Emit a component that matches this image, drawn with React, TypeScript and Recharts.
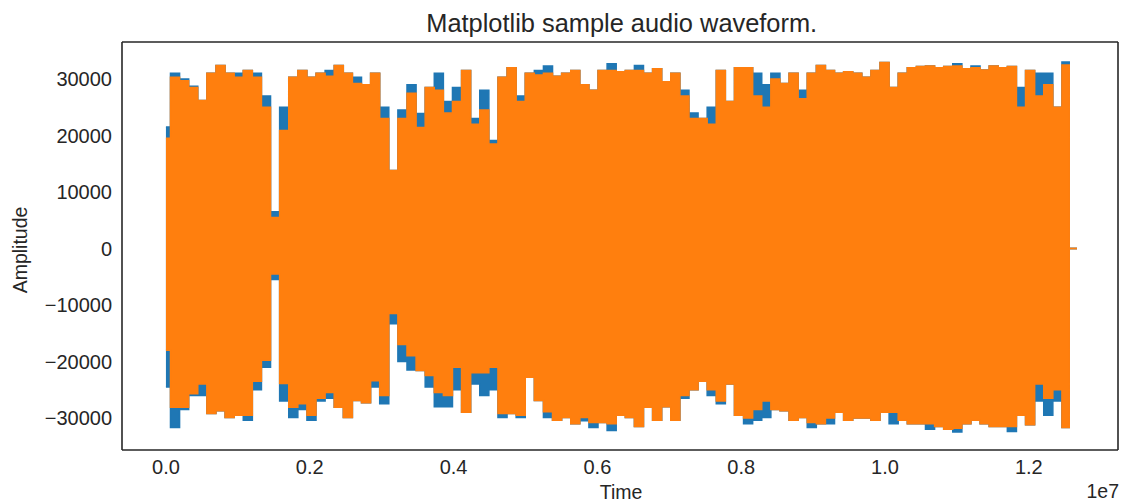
import React from "react";
import { ComposedChart, Area, XAxis, YAxis, ReferenceLine } from "recharts";

// Envelope of the waveform, one bin every 126,500 samples.
const BIN = 126500;

const orangeMax = [
  19500, 30300, 29700, 28500, 26200, 31000, 32400, 31000, 30300, 31500,
  30300, 25000, 5500, 20900, 30300, 31500, 30300, 31000, 30500, 32400,
  31000, 29200, 29000, 31000, 23000, 13800, 23000, 27500, 21400, 28500,
  28000, 24000, 26000, 31500, 22000, 24500, 18500, 30300, 32000, 26000,
  31000, 30700, 31000, 30500, 31000, 31500, 29000, 28000, 31500, 31500,
  31300, 31500, 31500, 31000, 31800, 29500, 31000, 27000, 23000, 23000,
  22000, 31500, 26000, 32000, 32000, 27000, 25000, 30000, 29200, 31000,
  26500, 31000, 32400, 31500, 31000, 31300, 31000, 30300, 31500, 32900,
  28500, 31000, 32000, 32200, 32300, 32000, 32200, 32300, 31800, 32000,
  31600, 32300, 32000, 32200, 25000, 31500, 27000, 29000, 25000, 32500,
];

const orangeMin = [
  -18000, -28100, -28100, -25700, -24000, -29200, -28700, -29900, -29500, -29500,
  -23500, -19800, -4500, -23900, -28100, -27500, -29500, -26500, -25500, -28100,
  -29900, -26900, -27300, -23400, -26000, -11500, -17000, -19000, -21600, -22500,
  -25500, -26000, -21000, -29000, -22000, -22000, -21000, -29200, -29200, -29500,
  -22800, -26900, -28900, -30400, -29900, -31000, -29900, -30800, -30800, -31000,
  -29500, -29900, -31500, -28100, -30400, -28000, -30400, -26000, -25000, -23500,
  -25000, -27000, -24000, -29500, -30000, -28500, -27000, -28500, -28700, -30400,
  -29900, -30800, -31000, -30000, -29000, -30400, -30000, -30000, -30400, -29000,
  -29000, -30400, -31000, -31000, -31000, -31500, -32000, -31800, -31000, -30400,
  -31000, -31500, -31500, -31500, -29500, -31200, -24000, -26500, -25000, -31700,
];

const blueMax = [
  21500, 31000, 30000, 28700, 26200, 31000, 32400, 31000, 31000, 31500,
  31000, 27000, 6500, 25000, 30300, 31500, 30300, 31000, 31500, 32400,
  31000, 30300, 29000, 31000, 25000, 13800, 24500, 29000, 23900, 28500,
  31000, 26000, 28500, 31500, 23000, 28000, 19100, 30300, 32000, 27000,
  31000, 31500, 32300, 30500, 31000, 31500, 29000, 28000, 31500, 32700,
  31300, 31500, 32400, 31000, 31800, 29500, 31000, 28000, 24000, 23000,
  25000, 31500, 26000, 32000, 32000, 31000, 29000, 31000, 29200, 31000,
  28000, 31000, 32400, 31500, 31000, 31300, 31000, 30300, 31500, 32900,
  28500, 31000, 32000, 32200, 32300, 32000, 32200, 32700, 31800, 32300,
  31600, 32300, 32000, 32200, 28500, 31500, 31000, 31000, 25000, 33000,
];

const blueMin = [
  -24500, -31700, -28500, -26000, -26000, -29200, -28700, -29900, -29500, -30400,
  -25000, -21000, -5500, -27000, -29900, -28500, -30400, -27000, -26500, -28100,
  -29900, -26900, -27300, -24500, -27500, -13300, -20000, -21500, -21600, -24500,
  -28000, -28000, -25000, -29000, -24000, -26000, -25000, -29900, -29200, -29900,
  -22800, -26900, -29900, -30400, -29900, -31000, -30500, -31700, -30800, -32200,
  -29500, -29900, -31500, -28100, -30400, -28000, -30400, -26500, -25000, -23500,
  -26000, -27500, -24000, -29500, -31000, -30400, -29900, -28500, -28700, -30400,
  -29900, -31700, -31000, -31000, -29000, -30400, -30000, -30000, -30400, -29000,
  -31000, -30400, -31000, -31000, -32000, -31500, -32000, -32500, -31000, -30400,
  -31000, -31500, -31500, -32400, -29500, -31200, -27000, -29500, -27000, -31700,
];

// Silent tail after the sound ends
const tailTimes = [12600000, 12670000];
const tailValues = [0, 0];

const xTicks = [0, 2000000, 4000000, 6000000, 8000000, 10000000, 12000000];
const yTicks = [-30000, -20000, -10000, 0, 10000, 20000, 30000];
const X_DOMAIN = [-611000, 13240000];
const Y_DOMAIN = [-35665, 36550];

const TITLE = "Matplotlib sample audio waveform.";
const X_LABEL = "Time";
const Y_LABEL = "Amplitude";
const X_OFFSET = "1e7";

const BLUE = "#1f77b4";
const ORANGE = "#ff7f0e";
const INK = "#262626";
const FONT = "'Liberation Sans', Arial, sans-serif";

const rows = [
  ...orangeMax.map((_, i) => ({
    t: i * BIN,
    blue: [blueMin[i], blueMax[i]],
    orange: [orangeMin[i], orangeMax[i]],
  })),
  ...tailTimes.map((t, i) => ({
    t,
    blue: [tailValues[i], tailValues[i]],
    orange: [tailValues[i], tailValues[i]],
  })),
];

const tickStyle = { fill: INK, fontSize: 20, fontFamily: FONT };
const SPINE = { stroke: INK, strokeWidth: 1.6 };

export default function App() {
  return (
    <div
      style={{
        position: "absolute",
        left: 0,
        top: 0,
        width: 1123,
        height: 504,
        background: "#ffffff",
        overflow: "hidden",
      }}
    >
      <ComposedChart
        width={1123}
        height={504}
        data={rows}
        margin={{ top: 42, right: 5, bottom: 0, left: 0 }}
      >
        <XAxis
          dataKey="t"
          type="number"
          domain={X_DOMAIN}
          ticks={xTicks}
          allowDataOverflow
          tickFormatter={(v: number) => (v / 10000000).toFixed(1)}
          tick={tickStyle}
          tickLine={false}
          tickSize={6}
          tickMargin={4}
          height={54}
          axisLine={SPINE}
        />
        <YAxis
          type="number"
          domain={Y_DOMAIN}
          ticks={yTicks}
          allowDataOverflow
          tickFormatter={(v: number) => String(v).replace("-", "\u2212")}
          tick={tickStyle}
          tickLine={false}
          tickSize={6}
          tickMargin={4}
          width={122}
          axisLine={SPINE}
        />
        <Area
          dataKey="blue"
          type="step"
          fill={BLUE}
          fillOpacity={1}
          stroke={BLUE}
          strokeWidth={1.5}
          isAnimationActive={false}
          dot={false}
          activeDot={false}
        />
        <Area
          dataKey="orange"
          type="step"
          fill={ORANGE}
          fillOpacity={1}
          stroke={ORANGE}
          strokeWidth={1.5}
          isAnimationActive={false}
          dot={false}
          activeDot={false}
        />
        <ReferenceLine y={Y_DOMAIN[1]} stroke={INK} strokeWidth={1.6} />
        <ReferenceLine x={X_DOMAIN[1]} stroke={INK} strokeWidth={1.6} />
      </ComposedChart>
      <svg
        width={1123}
        height={504}
        style={{ position: "absolute", left: 0, top: 0, pointerEvents: "none" }}
      >
        <text x={621.7} y={31.5} textAnchor="middle" fill={INK} fontSize={25.4} fontFamily={FONT}>
          {TITLE}
        </text>
        <text x={621} y={499} textAnchor="middle" fill={INK} fontSize={19.5} fontFamily={FONT}>
          {X_LABEL}
        </text>
        <text x={1119} y={498} textAnchor="end" fill={INK} fontSize={19.5} fontFamily={FONT}>
          {X_OFFSET}
        </text>
        <text
          x={27}
          y={250}
          textAnchor="middle"
          fill={INK}
          fontSize={19.5}
          fontFamily={FONT}
          transform="rotate(-90 27 250)"
        >
          {Y_LABEL}
        </text>
      </svg>
    </div>
  );
}
